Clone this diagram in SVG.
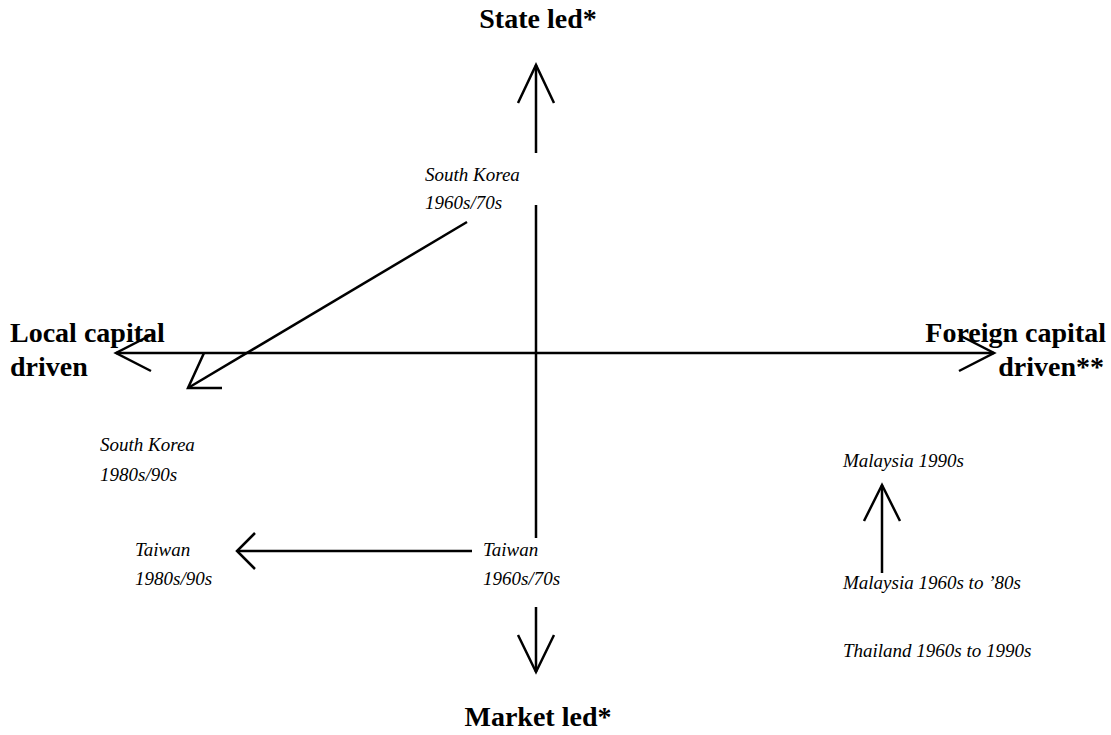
<svg xmlns="http://www.w3.org/2000/svg" width="1111" height="735" viewBox="0 0 1111 735">
<style>
.b{font-family:"Liberation Serif","Times New Roman",serif;font-weight:bold;font-size:28px;fill:#000}
.i{font-family:"Liberation Serif","Times New Roman",serif;font-style:italic;font-size:19px;fill:#000}
.l{stroke:#000;stroke-width:2.5;fill:none;stroke-linecap:butt;stroke-linejoin:miter}
</style>
<rect width="1111" height="735" fill="#fff"/>
<g id="connectors">
  <path class="l" d="M536,65 V153 M536,205 V538 M536,607 V672"/>
  <path class="l" d="M518,103 L536,65 L554,103"/>
  <path class="l" d="M518,635 L536,672 L554,635"/>
  <path class="l" d="M116,353 H994"/>
  <path class="l" d="M151,335 L116,353 L151,371"/>
  <path class="l" d="M959,335 L994,353 L959,371"/>
  <path class="l" d="M467,222 L188,388"/>
  <path class="l" d="M204,353 L188,388 L222,388"/>
  <path class="l" d="M472,551 H237"/>
  <path class="l" d="M255,533 L237,551 L255,569"/>
  <path class="l" d="M882,573 V485"/>
  <path class="l" d="M864,521 L882,485 L900,521"/>
</g>
<g id="state-led"><text class="b" x="538" y="28" text-anchor="middle">State led*</text></g>
<g id="market-led"><text class="b" x="538" y="726" text-anchor="middle">Market led*</text></g>
<g id="local-capital"><text class="b" x="10" y="342">Local capital</text><text class="b" x="10" y="376">driven</text></g>
<g id="foreign-capital"><text class="b" x="1106" y="342" text-anchor="end">Foreign capital</text><text class="b" x="1104" y="376" text-anchor="end">driven**</text></g>
<g id="sk-6070"><text class="i" x="425" y="181">South Korea</text><text class="i" x="425" y="209">1960s/70s</text></g>
<g id="sk-8090"><text class="i" x="100" y="451">South Korea</text><text class="i" x="100" y="481">1980s/90s</text></g>
<g id="tw-8090"><text class="i" x="135" y="556">Taiwan</text><text class="i" x="135" y="585">1980s/90s</text></g>
<g id="tw-6070"><text class="i" x="483" y="556">Taiwan</text><text class="i" x="483" y="585">1960s/70s</text></g>
<g id="my-1990"><text class="i" x="843" y="467">Malaysia 1990s</text></g>
<g id="my-6080"><text class="i" x="843" y="589">Malaysia 1960s to ’80s</text></g>
<g id="th"><text class="i" x="843" y="657">Thailand 1960s to 1990s</text></g>
</svg>
